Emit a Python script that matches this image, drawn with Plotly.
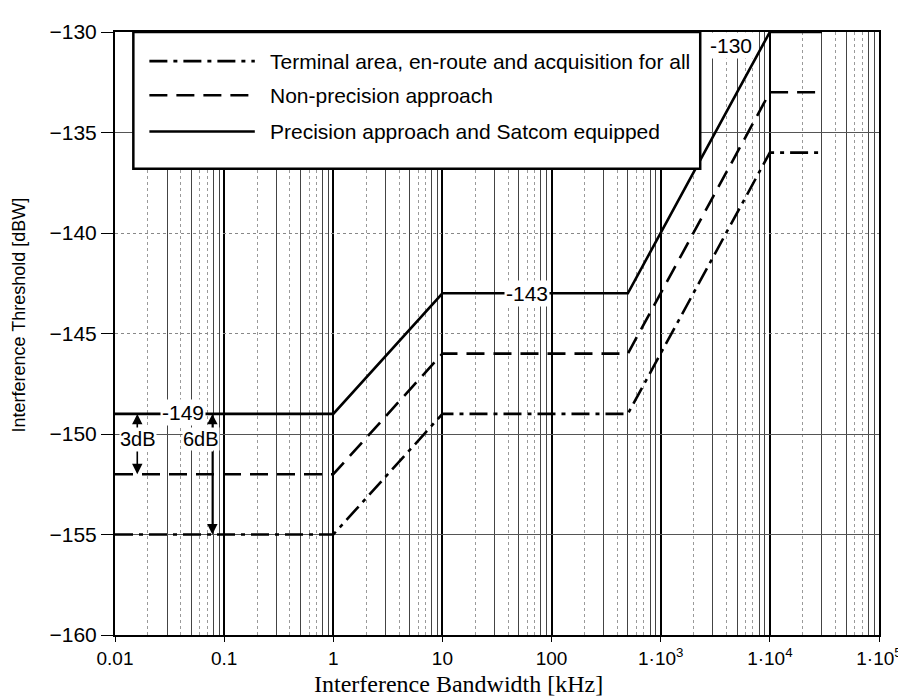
import math
import plotly.graph_objects as go

# ---- data ----
bandwidth_khz = [0.01, 1, 10, 500, 1e4, 3e4]
precision_dbw = [-149, -149, -143, -143, -130, -130]
nonprecision_dbw = [-152, -152, -146, -146, -133, -133]
terminal_dbw = [-155, -155, -149, -149, -136, -136]

series_names = [
    "Terminal area, en-route and acquisition for all",
    "Non-precision approach",
    "Precision approach and Satcom equipped",
]

x_tickvals = [0.01, 0.1, 1, 10, 100, 1e3, 1e4, 1e5]
x_ticktext = ["0.01", "0.1", "1", "10", "100", "1·10<sup>3</sup>", "1·10<sup>4</sup>", "1·10<sup>5</sup>"]
y_tickvals = [-130, -135, -140, -145, -150, -155, -160]

# ---- styles ----
DASHDOT = "18px,6px,4px,6px"
DASHED = "18px,9px"
SANS = "Liberation Sans, Arial, sans-serif"
SERIF = "Liberation Serif, Times New Roman, serif"
LW = 2.6

fig = go.Figure()
styles = [(terminal_dbw, DASHDOT), (nonprecision_dbw, DASHED), (precision_dbw, "solid")]
for (vals, dash), name in zip(styles, series_names):
    fig.add_trace(go.Scatter(x=bandwidth_khz, y=vals, mode="lines", name=name,
                             line=dict(color="black", width=LW, dash=dash),
                             showlegend=False))

# invisible trace so the overlay grid axes render
fig.add_trace(go.Scatter(x=[1], y=[-200], xaxis="x2", yaxis="y2", mode="markers",
                         marker=dict(size=0, opacity=0), showlegend=False, hoverinfo="skip"))

xr = [math.log10(0.01), math.log10(1e5)]
yr = [-160, -130]

solid_minor = []
for d in range(-2, 5):
    for m in (3, 5, 8, 9):
        solid_minor.append(m * 10 ** d)

# the page body adds an 8px offset, so margins are shifted accordingly
fig.update_layout(
    width=906, height=698,
    margin=dict(l=107, r=31, t=13, b=71),
    paper_bgcolor="white", plot_bgcolor="white",
    font=dict(family=SANS, color="black", size=21),
    xaxis=dict(type="log", range=xr, tickvals=x_tickvals, ticktext=x_ticktext,
               showgrid=True, gridcolor="black", gridwidth=2,
               minor=dict(showgrid=True, dtick="D1", gridcolor="#9a9a9a", gridwidth=1, griddash="dot"),
               showline=True, linecolor="black", linewidth=2, mirror=True,
               ticks="outside", ticklen=5, tickcolor="black",
               tickfont=dict(family=SANS, size=19), ticklabeloverflow="allow",
               zeroline=False, layer="below traces"),
    xaxis2=dict(type="log", range=xr, overlaying="x", tickmode="array", tickvals=solid_minor,
                showticklabels=False, showgrid=True, gridcolor="#444444", gridwidth=1,
                showline=False, ticks="", anchor="y", layer="below traces"),
    yaxis=dict(range=yr, tickvals=y_tickvals, showgrid=True, gridcolor="#888888", gridwidth=1,
               griddash="dot",
               showline=True, linecolor="black", linewidth=2, mirror=True,
               ticks="outside", ticklen=12, tickcolor="black",
               tickfont=dict(family=SANS, size=21),
               zeroline=False),
    yaxis2=dict(range=yr, overlaying="y", tickmode="array", tickvals=[-135, -150, -155],
                showticklabels=False, showgrid=True, gridcolor="#555555", gridwidth=1,
                showline=False, ticks="", anchor="x", zeroline=False),
)

# ---- axis titles ----
fig.add_annotation(xref="paper", yref="paper", x=0.449, y=-0.082, text="Interference Bandwidth [kHz]",
                   showarrow=False, xanchor="center", yanchor="middle",
                   font=dict(family=SERIF, size=24))
fig.add_annotation(xref="paper", yref="paper", x=-0.126, y=0.531, text="Interference Threshold [dBW]",
                   showarrow=False, textangle=-90, xanchor="center", yanchor="middle",
                   font=dict(family=SANS, size=18))

# ---- custom legend box (drawn above the data lines) ----
box_x0, box_x1 = 0.024, 0.766
box_ytop, box_ybot = -130, -136.8
fig.add_shape(type="rect", xref="paper", yref="y", x0=box_x0, x1=box_x1, y0=box_ybot, y1=box_ytop,
              fillcolor="white", line=dict(color="black", width=2.5), layer="above")
legend_rows = [-131.45, -133.15, -134.95]
legend_dash = [DASHDOT, DASHED, "solid"]
for yrow, dash, name in zip(legend_rows, legend_dash, series_names):
    fig.add_shape(type="line", xref="paper", yref="y", x0=0.045, x1=0.183, y0=yrow, y1=yrow,
                  line=dict(color="black", width=LW, dash=dash), layer="above")
    fig.add_annotation(xref="paper", yref="y", x=0.200, y=yrow, text=name, showarrow=False,
                       xanchor="left", yanchor="middle", font=dict(family=SANS, size=21))

# ---- value labels ----
def lx(v):
    return math.log10(v)

labels = [(-149, 0.042, -148.95), (-143, 59, -143.0), (-130, 4400, -130.65)]
for val, xv, yv in labels:
    fig.add_annotation(x=lx(xv), y=yv, text=f"-{abs(val)}", showarrow=False, bgcolor="white",
                       font=dict(family=SANS, size=21), borderpad=1)

# ---- 3 dB / 6 dB differences ----
fig.add_annotation(x=lx(0.0163), y=-150.25, text="3dB", showarrow=False, bgcolor="white",
                   font=dict(family=SANS, size=20), borderpad=0)
fig.add_annotation(x=lx(0.062), y=-150.25, text="6dB", showarrow=False, bgcolor="white",
                   font=dict(family=SANS, size=20), borderpad=0)
arrows = [(0.016, -149.75, -149), (0.016, -150.8, -152), (0.078, -149.75, -149), (0.078, -150.8, -155)]
for xa, ytail, ytip in arrows:
    fig.add_annotation(x=lx(xa), y=ytip, ax=lx(xa), ay=ytail, axref="x", ayref="y",
                       showarrow=True, arrowhead=2, arrowsize=1.3, arrowwidth=1.6,
                       arrowcolor="black", text="", standoff=0, startstandoff=0)

fig.write_html("out.html")
